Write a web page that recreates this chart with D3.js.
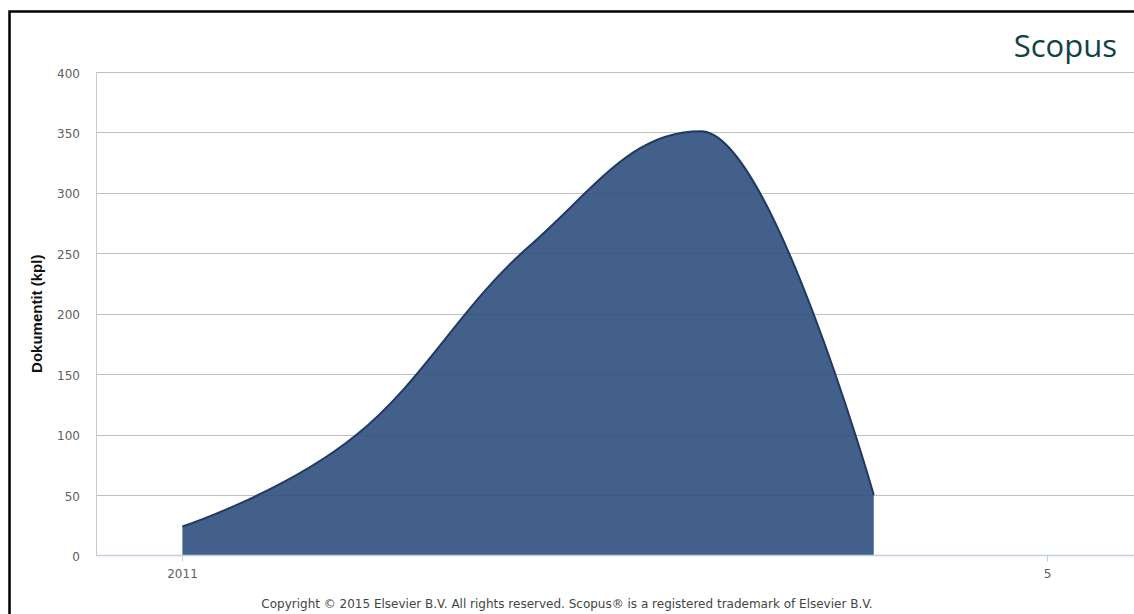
<!DOCTYPE html>
<html>
<head>
<meta charset="utf-8">
<script src="https://cdn.jsdelivr.net/npm/d3@7"></script>
<style>
  html, body { margin: 0; padding: 0; background: #fff; }
  svg { display: block; }
</style>
</head>
<body>
<svg id="chart"></svg>
<script>
// data
const years = [2011, 2012, 2013, 2014, 2015];
const docs = [24, 99, 255, 351, 50];
const yTicks = [0, 50, 100, 150, 200, 250, 300, 350, 400];
const xTickValues = [2011, 2016];
const xTickLabels = ["2011", "5"];

const width = 1134;
const height = 614;
const plot = { left: 96, right: 1134, top: 72, bottom: 555.5 };

const svg = d3.select("#chart")
    .attr("width", width)
    .attr("height", height)
    .style("font-family", "'DejaVu Sans', sans-serif");

const x = d3.scaleLinear()
    .domain([2010.5, 2016.5])
    .range([plot.left, plot.right - 1]);

const y = d3.scaleLinear()
    .domain([0, 400])
    .range([plot.bottom, plot.top]);

// spline like the original charting tool (smoothing 1.5, flattened at extremes)
function splinePath(pts, closeToBase) {
    const p = d3.path();
    const ctrl = pts.map((pt, i) => {
        if (i === 0 || i === pts.length - 1) return null;
        const [lx, ly] = pts[i - 1], [nx, ny] = pts[i + 1], [px, py] = pt;
        const s = 1.5, den = 2.5;
        let lcx = (s * px + lx) / den, lcy = (s * py + ly) / den;
        let rcx = (s * px + nx) / den, rcy = (s * py + ny) / den;
        if (rcx !== lcx) {
            const corr = ((rcy - lcy) * (rcx - px)) / (rcx - lcx) + py - rcy;
            lcy += corr;
            rcy += corr;
        }
        if (lcy > ly && lcy > py) { lcy = Math.max(ly, py); rcy = 2 * py - lcy; }
        else if (lcy < ly && lcy < py) { lcy = Math.min(ly, py); rcy = 2 * py - lcy; }
        if (rcy > ny && rcy > py) { rcy = Math.max(ny, py); lcy = 2 * py - rcy; }
        else if (rcy < ny && rcy < py) { rcy = Math.min(ny, py); lcy = 2 * py - rcy; }
        return { lcx, lcy, rcx, rcy };
    });
    p.moveTo(pts[0][0], pts[0][1]);
    for (let i = 1; i < pts.length; i++) {
        const prev = ctrl[i - 1], cur = ctrl[i];
        p.bezierCurveTo(
            prev ? prev.rcx : pts[i - 1][0], prev ? prev.rcy : pts[i - 1][1],
            cur ? cur.lcx : pts[i][0], cur ? cur.lcy : pts[i][1],
            pts[i][0], pts[i][1]);
    }
    if (closeToBase !== undefined) {
        p.lineTo(pts[pts.length - 1][0], closeToBase);
        p.lineTo(pts[0][0], closeToBase);
        p.closePath();
    }
    return p.toString();
}

const points = docs.map((d, i) => [x(years[i]), y(d)]);

// outer frame
svg.append("rect")
    .attr("x", 9.5)
    .attr("y", 11.5)
    .attr("width", width + 20)
    .attr("height", height + 20)
    .attr("fill", "none")
    .attr("stroke", "#000")
    .attr("stroke-width", 2.5);

// gridlines
svg.append("g")
    .selectAll("line")
    .data(yTicks.filter(d => d > 0))
    .join("line")
    .attr("x1", plot.left)
    .attr("x2", plot.right)
    .attr("y1", d => Math.round(y(d)) + 0.5)
    .attr("y2", d => Math.round(y(d)) + 0.5)
    .attr("stroke", "#c0c0c0")
    .attr("stroke-width", 1);

// left plot edge
svg.append("line")
    .attr("x1", plot.left + 0.5)
    .attr("x2", plot.left + 0.5)
    .attr("y1", plot.top)
    .attr("y2", plot.bottom)
    .attr("stroke", "#c8c8c8");

// area + outline
svg.append("path")
    .attr("d", splinePath(points, y(0)))
    .attr("fill", "#2f4f7d")
    .attr("fill-opacity", 0.9);

svg.append("path")
    .attr("d", splinePath(points))
    .attr("fill", "none")
    .attr("stroke", "#203b63")
    .attr("stroke-width", 2);

// x axis
const xAxis = svg.append("g")
    .attr("transform", `translate(0, ${plot.bottom})`);

xAxis.append("line")
    .attr("x1", plot.left)
    .attr("x2", plot.right)
    .attr("stroke", "#c0d0e0")
    .attr("stroke-width", 1.5);

const xt = xAxis.selectAll("g.tick")
    .data(xTickValues)
    .join("g")
    .attr("class", "tick")
    .attr("transform", d => `translate(${Math.round(x(d)) + 0.5}, 0)`);

xt.append("line")
    .attr("y2", 6)
    .attr("stroke", "#c0d0e0");

xt.append("text")
    .attr("y", 22)
    .attr("text-anchor", "middle")
    .attr("font-size", "12px")
    .attr("fill", "#606060")
    .text((d, i) => xTickLabels[i]);

// y axis labels
svg.append("g")
    .selectAll("text")
    .data(yTicks)
    .join("text")
    .attr("x", 80)
    .attr("y", d => y(d) + 5.5)
    .attr("text-anchor", "end")
    .attr("font-size", "12px")
    .attr("fill", "#606060")
    .text(d => d);

svg.append("text")
    .attr("transform", `translate(42, ${(plot.top + plot.bottom) / 2}) rotate(-90)`)
    .attr("text-anchor", "middle")
    .attr("font-family", "'Liberation Sans', Arial, sans-serif")
    .attr("font-weight", "bold")
    .attr("font-size", "15px")
    .attr("fill", "#111")
    .text("Dokumentit (kpl)");

// logo
svg.append("text")
    .attr("x", 1117)
    .attr("y", 57)
    .attr("text-anchor", "end")
    .attr("font-family", "'Open Sans', sans-serif")
    .attr("font-size", "31px")
    .attr("fill", "#0f4346")
    .text("Scopus");

// copyright
svg.append("text")
    .attr("x", 567)
    .attr("y", 608)
    .attr("text-anchor", "middle")
    .attr("font-size", "12px")
    .attr("fill", "#444")
    .text("Copyright © 2015 Elsevier B.V. All rights reserved. Scopus® is a registered trademark of Elsevier B.V.");
</script>
</body>
</html>
